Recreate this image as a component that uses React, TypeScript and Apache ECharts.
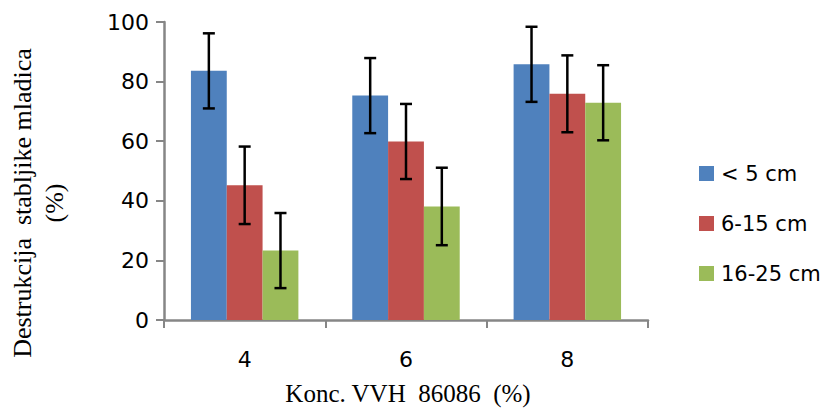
import React, { useEffect, useRef } from "react";
import * as echarts from "echarts";

const categories = ["4", "6", "8"];
const seriesNames = ["< 5 cm", "6-15 cm", "16-25 cm"];
const small = [83.6, 75.3, 85.8];
const medium = [45.2, 59.9, 75.9];
const large = [23.3, 38.1, 72.9];
const smallErr = [12.6, 12.6, 12.6];
const mediumErr = [13.0, 12.6, 12.9];
const largeErr = [12.6, 13.0, 12.6];
const colors = ["#4F81BD", "#C0504D", "#9BBB59"];
const yTicks = [0, 20, 40, 60, 80, 100];

export default function App() {
  const ref = useRef<HTMLDivElement>(null);
  useEffect(() => {
    if (!ref.current) return;
    const chart = echarts.init(ref.current, undefined, { renderer: "svg" });
    const values = [small, medium, large];
    const errs = [smallErr, mediumErr, largeErr];
    const barFrac = 0.222;

    const barSeries = seriesNames.map((name, i) => ({
      name,
      type: "bar",
      data: values[i],
      barWidth: "22.2%",
      barGap: "0%",
      itemStyle: { color: colors[i] },
      z: 2,
    }));

    const errSeries = seriesNames.map((name, i) => ({
      name: name + "_err",
      type: "custom",
      z: 5,
      data: values[i].map((v, j) => [j, v - errs[i][j], v + errs[i][j]]),
      renderItem: (params: any, api: any) => {
        const idx = api.value(0);
        const lo = api.coord([idx, api.value(1)]);
        const hi = api.coord([idx, api.value(2)]);
        const band = api.size([1, 0])[0];
        const bw = band * barFrac;
        const x = lo[0] + (i - 1) * bw;
        const cap = 6;
        const style = { stroke: "#000", lineWidth: 2.5, fill: "none" };
        return {
          type: "group",
          children: [
            { type: "line", shape: { x1: x, y1: hi[1], x2: x, y2: lo[1] }, style },
            { type: "line", shape: { x1: x - cap, y1: hi[1], x2: x + cap, y2: hi[1] }, style },
            { type: "line", shape: { x1: x - cap, y1: lo[1], x2: x + cap, y2: lo[1] }, style },
          ],
        };
      },
    }));

    chart.setOption({
      animation: false,
      grid: { left: 164, right: 179, top: 22, bottom: 91, containLabel: false },
      legend: {
        data: seriesNames,
        orient: "vertical",
        left: 694,
        top: 158,
        itemWidth: 15,
        itemHeight: 15,
        itemGap: 29,
        icon: "rect",
        textStyle: { fontFamily: "DejaVu Sans", fontSize: 21, color: "#000", lineHeight: 21, padding: [0, 0, 0, 2] },
      },
      xAxis: {
        type: "category",
        data: categories,
        boundaryGap: true,
        axisLine: { lineStyle: { color: "#868686", width: 2.5 } },
        axisTick: { show: true, length: 8, alignWithLabel: false, lineStyle: { color: "#868686", width: 2 } },
        axisLabel: { fontFamily: "DejaVu Sans", fontSize: 22, color: "#000", margin: 28 },
      },
      yAxis: {
        type: "value",
        min: 0,
        max: 100,
        interval: 20,
        axisLine: { show: true, lineStyle: { color: "#868686", width: 2.5 } },
        axisTick: { show: true, length: 8, lineStyle: { color: "#868686", width: 2 } },
        splitLine: { show: false },
        axisLabel: {
          fontFamily: "DejaVu Sans",
          fontSize: 22,
          color: "#000",
          margin: 15,
          formatter: (v: number) => (yTicks.includes(v) ? String(v) : ""),
        },
      },
      graphic: [
        {
          type: "text",
          x: 38,
          y: 203,
          rotation: Math.PI / 2,
          style: {
            text: "Destrukcija  stabljike mladica\n(%)",
            fontFamily: "Liberation Serif",
            fontSize: 26,
            lineHeight: 32,
            fill: "#000",
            align: "center",
            verticalAlign: "middle",
          },
        },
        {
          type: "text",
          x: 408,
          y: 393,
          style: {
            text: "Konc. VVH  86086  (%)",
            fontFamily: "Liberation Serif",
            fontSize: 25,
            fill: "#000",
            align: "center",
            verticalAlign: "middle",
          },
        },
      ],
      series: [...barSeries, ...errSeries],
    });
    return () => chart.dispose();
  }, []);
  return <div ref={ref} style={{ width: 827, height: 411, position: "absolute", left: 0, top: 0 }} />;
}
